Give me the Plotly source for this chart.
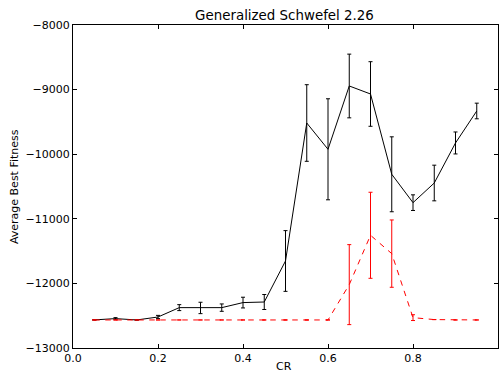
import plotly.graph_objects as go

cr = [0.05, 0.1, 0.15, 0.2, 0.25, 0.3, 0.35, 0.4, 0.45, 0.5,
      0.55, 0.6, 0.65, 0.7, 0.75, 0.8, 0.85, 0.9, 0.95]

black_mean = [-12565, -12545, -12566, -12520, -12375, -12380, -12375, -12297, -12288, -11653,
              -9517, -9924, -8944, -9068, -10311, -10750, -10446, -9826, -9331]
black_err = [0, 15, 0, 25, 46, 88, 57, 83, 116, 470,
             593, 782, 493, 500, 580, 121, 276, 170, 121]

red_mean = [-12566, -12566, -12566, -12566, -12566, -12566, -12566, -12566, -12566, -12566,
            -12566, -12566, -12019, -11255, -11539, -12530, -12560, -12566, -12566]
red_err = [0, 0, 0, 0, 0, 0, 0, 0, 0, 0,
           0, 0, 619, 666, 521, 45, 0, 0, 0]

x_ticks = [0.0, 0.2, 0.4, 0.6, 0.8, 1.0]
y_ticks = [-13000, -12000, -11000, -10000, -9000, -8000]

fig = go.Figure()
fig.add_trace(go.Scatter(
    x=cr, y=black_mean, mode="lines",
    line=dict(color="black", width=1),
    error_y=dict(type="data", array=black_err, visible=True,
                 color="black", thickness=1, width=2),
    showlegend=False))
fig.add_trace(go.Scatter(
    x=cr, y=red_mean, mode="lines",
    line=dict(color="red", width=1, dash="5.5px,5.5px"),
    error_y=dict(type="data", array=red_err, visible=True,
                 color="red", thickness=1, width=2),
    showlegend=False))

axis_common = dict(
    showgrid=False, zeroline=False, showline=True, linecolor="black", linewidth=1,
    mirror="ticks", ticks="inside", ticklen=4, tickcolor="black", tickwidth=1,
    tickfont=dict(family="DejaVu Sans", size=11, color="black"),
    automargin=False,
)

L, R, T, B = 72.7, 6.3, 24.7, 24.3
W, H = 504, 372
pw, ph = W - L - R, H - T - B

fig.update_layout(
    width=W, height=H,
    margin=dict(l=L, r=R, t=T, b=B, autoexpand=False),
    paper_bgcolor="white", plot_bgcolor="white",
    font=dict(family="DejaVu Sans", color="black"),
    title=dict(text="Generalized Schwefel 2.26", x=284.5 / W, xanchor="center",
               y=1 - 15.5 / H, yanchor="middle", yref="container",
               font=dict(family="DejaVu Sans", size=13.4, color="black")),
    xaxis=dict(range=[0, 1], tickvals=x_ticks, tickformat=".1f", **axis_common),
    yaxis=dict(range=[-13000, -8000], tickvals=y_ticks, tickformat="d", **axis_common),
    annotations=[
        dict(text="CR", xref="paper", yref="paper",
             x=(284 - L) / pw, y=(H - B - 366) / ph,
             xanchor="center", yanchor="middle", showarrow=False,
             font=dict(family="DejaVu Sans", size=11, color="black")),
        dict(text="Average Best Fitness", xref="paper", yref="paper",
             x=(14.5 - L) / pw, y=(H - B - 186) / ph, textangle=-90,
             xanchor="center", yanchor="middle", showarrow=False,
             font=dict(family="DejaVu Sans", size=11, color="black")),
    ],
)

fig.write_html("out.html",
               config={"displayModeBar": False},
               post_script="document.body.style.margin='0';document.body.style.padding='0';")
